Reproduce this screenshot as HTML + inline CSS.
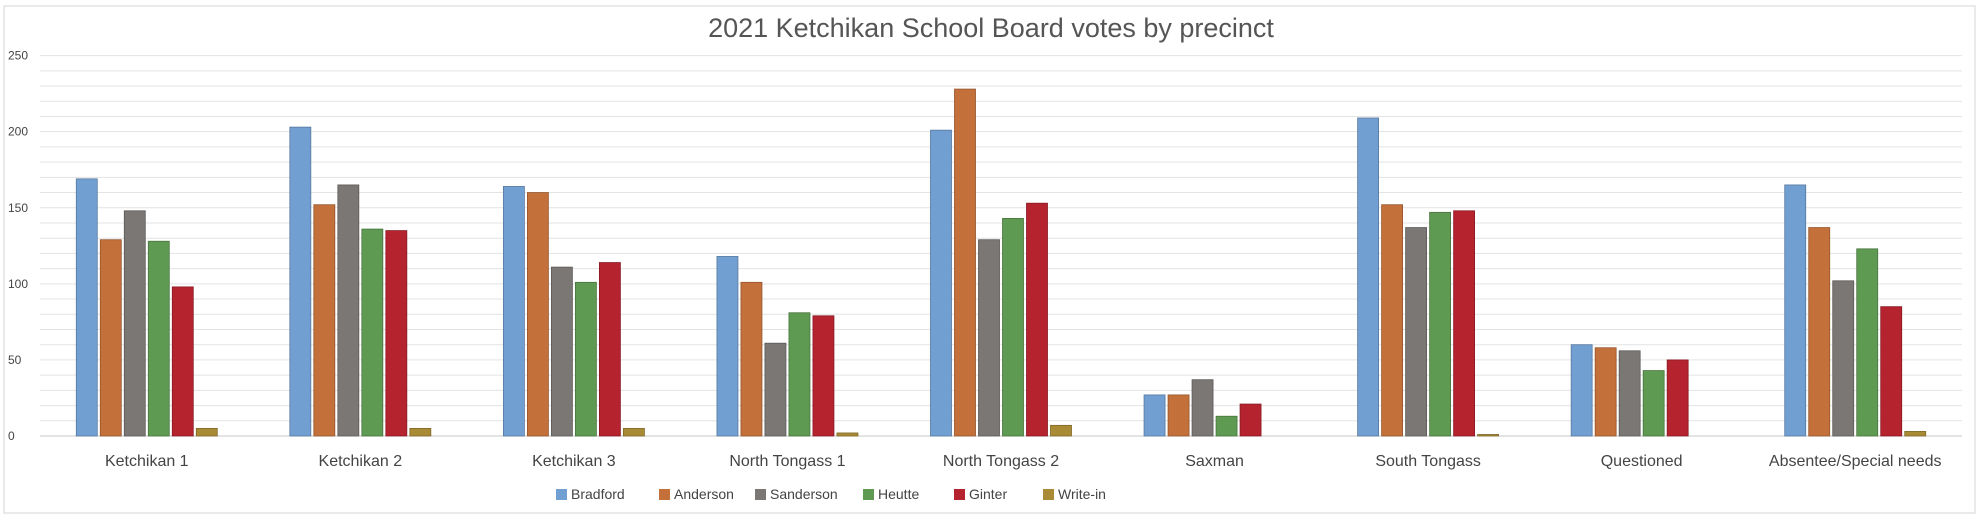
<!DOCTYPE html>
<html><head><meta charset="utf-8"><style>
body{margin:0;background:#fff;}
svg{display:block;font-family:"Liberation Sans",sans-serif;}
</style></head><body>
<svg id="chart" width="1980" height="520" xmlns="http://www.w3.org/2000/svg">
<rect x="4" y="6" width="1971" height="507" fill="#fff" stroke="#d4d4d4"/>
<text x="991" y="37" text-anchor="middle" font-size="27" fill="#555">2021 Ketchikan School Board votes by precinct</text>
<g id="grid"></g><g id="bars"></g><g id="xlabels"></g><g id="ylabels"></g><g id="legend"></g>
</svg>
<script>
const categories=["Ketchikan 1","Ketchikan 2","Ketchikan 3","North Tongass 1","North Tongass 2","Saxman","South Tongass","Questioned","Absentee/Special needs"];
const seriesNames=["Bradford","Anderson","Sanderson","Heutte","Ginter","Write-in"];
const bradford=[169,203,164,118,201,27,209,60,165];
const anderson=[129,152,160,101,228,27,152,58,137];
const sanderson=[148,165,111,61,129,37,137,56,102];
const heutte=[128,136,101,81,143,13,147,43,123];
const ginter=[98,135,114,79,153,21,148,50,85];
const writein=[5,5,5,2,7,0,1,0,3];
const yTicks=[0,50,100,150,200,250];
const series=[bradford,anderson,sanderson,heutte,ginter,writein];
const colors=["#729fd2","#c4703a","#7b7774","#5f9a52","#b5232f","#a98a35"];
const strokes=["#56789e","#94552c","#5c5957","#48743e","#881a23","#7f6828"];
const NS="http://www.w3.org/2000/svg";
const L=40,R=1962,T=55.6,B=436,yMax=250;
const y=v=>B-(v/yMax)*(B-T);
const bw=(R-L)/categories.length;
const x=i=>L+bw*i;
function mk(tag,attrs,parent){const e=document.createElementNS(NS,tag);for(const k in attrs)e.setAttribute(k,attrs[k]);document.getElementById(parent).appendChild(e);return e;}
for(let v=0;v<=yMax;v+=10){
  const l=mk('line',{x1:L,x2:R,y1:y(v),y2:y(v),stroke:v===0?'#c8c8c8':'#e3e3e3','stroke-width':1},'grid');
  
  
}
yTicks.forEach(v=>{
  const t=mk('text',{x:8,y:y(v)+4,'font-size':12,fill:'#444'},'ylabels');
  t.textContent=v;
  
  
});
const barW=21,pitch=24,groupW=pitch*series.length-3;
categories.forEach((c,i)=>{
  const cx=x(i)+bw/2;
  const x0=cx-groupW/2;
  series.forEach((s,j)=>{
    const r=mk('rect',{x:x0+j*pitch,y:y(s[i]),width:barW,height:Math.max(0,B-y(s[i])),fill:colors[j],stroke:strokes[j],'stroke-width':0.8},'bars');
    
    
  });
  const t=mk('text',{x:cx,y:466,'text-anchor':'middle','font-size':16,fill:'#444'},'xlabels');
  t.textContent=c;
  
  
});
const legX=[556,659,755,863,954,1043];
seriesNames.forEach((n,j)=>{
  const r=mk('rect',{x:legX[j],y:489,width:11,height:11,fill:colors[j]},'legend');
  
  
  const t=mk('text',{x:legX[j]+15,y:499,'font-size':14,fill:'#444'},'legend');
  t.textContent=n;
  
  
});
</script>
</body></html>
